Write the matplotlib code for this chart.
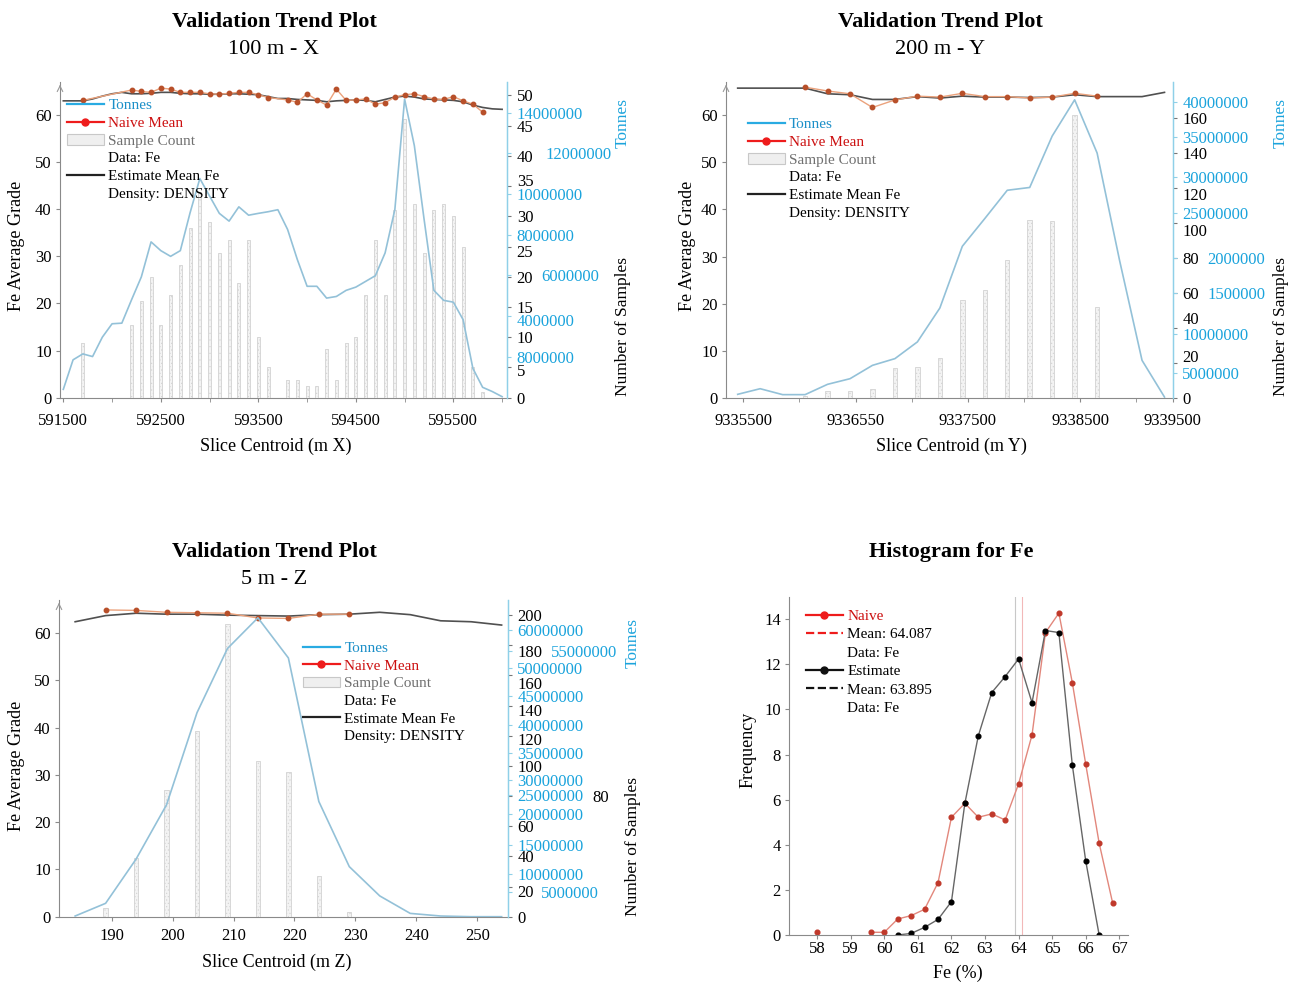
import numpy as np
import matplotlib
matplotlib.use("Agg")
import matplotlib.pyplot as plt
from matplotlib.lines import Line2D
from matplotlib.patches import Patch
from matplotlib.transforms import ScaledTranslation

plt.rcParams['font.family'] = ['Liberation Serif', 'DejaVu Serif']
plt.rcParams['hatch.linewidth'] = 0.4

W, H = 1295, 982
nan = np.nan

# ---------------- 100 m - X ----------------
x_line = list(range(591500, 596001, 100))
x_tonnes = [0.41, 1.86, 2.15, 2.02, 2.97, 3.63, 3.66, 4.81, 5.93, 7.65, 7.22, 6.94, 7.22,
            9.08, 10.76, 9.90, 9.05, 8.67, 9.37, 8.96, 9.05, 9.13, 9.23, 8.26, 6.78, 5.47,
            5.47, 4.89, 4.97, 5.27, 5.43, 5.71, 5.99, 7.11, 9.24, 14.66, 12.37, 8.75, 5.27,
            4.78, 4.69, 3.83, 1.44, 0.51, 0.30, 0.05]
x_est = [63.0, 63.0, 63.0, 63.4, 64.0, 64.5, 64.8, 64.5, 64.5, 64.6, 64.8, 64.8, 64.6,
         64.5, 64.5, 64.4, 64.4, 64.5, 64.5, 64.4, 64.3, 63.9, 63.5, 63.5, 63.3, 63.2,
         63.1, 62.8, 63.0, 63.1, 63.2, 63.1, 62.8, 63.3, 63.8, 64.0, 63.8, 63.4, 63.3,
         63.2, 63.1, 62.8, 62.1, 61.6, 61.3, 61.2]
x_bar = [591700] + list(range(592200, 593601, 100)) + list(range(593800, 595801, 100))
x_samples = [9, 12, 16, 20, 12, 17, 22, 28, 34, 29, 24, 26, 19, 26, 10, 5,
             3, 3, 2, 2, 8, 3, 9, 10, 17, 26, 17, 31, 46, 32, 24, 31, 32, 30, 25, 5, 1]
x_naive = [63.1, 65.3, 65.0, 64.8, 65.7, 65.5, 64.8, 64.8, 64.8, 64.5, 64.4, 64.6, 64.8,
           64.8, 64.3, 63.7, 63.2, 62.7, 64.5, 63.2, 62.1, 65.5, 63.1, 63.2, 63.4, 62.3,
           62.6, 63.8, 64.3, 64.5, 63.9, 63.4, 63.3, 63.9, 63.0, 62.3, 60.6]
x_tonne_ticks = [2, 4, 6, 8, 10, 12, 14]
x_tonne_labels = ['8000000', '4000000', '6000000', '8000000', '10000000',
                  '12000000', '14000000']
x_sample_labels = [str(v) for v in range(0, 51, 5)]

# ---------------- 200 m - Y ----------------
y_line = list(range(9335450, 9339251, 200))
y_tonnes = [2.22, 2.94, 2.18, 2.18, 3.50, 4.22, 5.93, 6.79, 8.93, 13.27, 21.17, 24.72,
            28.34, 28.70, 35.28, 39.92, 33.11, 19.36, 6.57, 1.87]
y_est = [65.7, 65.7, 65.7, 65.7, 64.5, 64.3, 63.3, 63.3, 63.9, 63.6, 64.0, 63.8, 63.8,
         63.7, 63.8, 64.3, 63.9, 63.9, 63.9, 64.8]
y_bar = list(range(9336050, 9338651, 200))
y_samples = [1, 4, 4, 5, 17, 18, 23, 56, 62, 79, 102, 101, 162, 52]
y_naive = [65.9, 65.1, 64.5, 61.6, 63.2, 64.0, 63.8, 64.6, 63.9, 63.9, 63.6, 63.8, 64.6, 64.0]
y_tonne_ticks = [4.92, 9.95, 15.16, 19.64, 25.40, 30.09, 35.13, 39.69]
y_tonne_labels = ['5000000', '10000000', '1500000', '2000000', '25000000',
                  '30000000', '35000000', '40000000']
y_sample_labels = [str(v) for v in range(0, 161, 20)]

# ---------------- 5 m - Z ----------------
z_line = list(range(184, 255, 5))
z_tonnes = [1.84, 4.45, 13.54, 24.70, 43.63, 56.83, 63.14, 54.89, 25.38, 11.99, 5.97,
            2.38, 1.84, 1.70, 1.70]
z_est = [62.4, 63.7, 64.2, 64.0, 64.0, 63.8, 63.7, 63.6, 63.9, 64.0, 64.4, 63.9, 62.6,
         62.4, 61.7]
z_bar = list(range(189, 230, 5))
z_samples = [6, 39, 84, 123, 194, 103, 96, 27, 3]
z_naive = [64.9, 64.8, 64.4, 64.3, 64.2, 63.2, 63.1, 64.0, 64.0]
z_tonne_ticks = [6.85, 10.43, 16.45, 22.83, 26.73, 29.82, 35.43, 41.13, 47.09, 52.79,
                 56.34, 60.66]
z_tonne_labels = ['5000000', '10000000', '15000000', '20000000', '25000000',
                  '30000000', '35000000', '40000000', '45000000', '50000000',
                  '55000000', '60000000']
z_sample_labels = [str(v) for v in range(0, 201, 20)]

# ---------------- Histogram ----------------
fe_bins = [58.0, 58.4, 58.8, 59.2, 59.6, 60.0, 60.4, 60.8, 61.2, 61.6, 62.0, 62.4,
           62.8, 63.2, 63.6, 64.0, 64.4, 64.8, 65.2, 65.6, 66.0, 66.4, 66.8]
naive_freq = [0.12, nan, nan, nan, 0.12, 0.12, 0.71, 0.86, 1.14, 2.32, 5.22, 5.84,
              5.22, 5.37, 5.10, 6.70, 8.87, 13.41, 14.27, 11.19, 7.57, 4.07, 1.43]
est_freq = [nan, nan, nan, nan, nan, nan, 0.0, 0.07, 0.34, 0.69, 1.48, 5.84,
            8.83, 10.75, 11.46, 12.24, 10.30, 13.50, 13.41, 7.54, 3.28, 0.0, nan]
naive_mean = 64.087
est_mean = 63.895

BLUE = '#1aa3dc'
SPINE_BLUE = '#8fd0e8'
GREY = '#8a8a8a'

fig = plt.figure(figsize=(W / 100, H / 100), dpi=100)


def rect(l, r, b, t):
    return [l / W, 1 - b / H, (r - l) / W, (b - t) / H]


def ftext(x, y, s, **kw):
    fig.text(x / W, 1 - y / H, s, ha='center', va='center', **kw)


def shift_labels(axis, moves):
    # nudge some right-hand labels (pad in pt, dy in px downward) like the original
    ticks = axis.get_major_ticks()
    for i, (pad, dy) in moves.items():
        t = ticks[i]
        if pad is not None:
            t.set_pad(pad)
        if dy:
            t.label2.set_transform(t.label2.get_transform() +
                                   ScaledTranslation(0, -dy / 100, fig.dpi_scale_trans))


def trend_panel(box, xlim, pos_line, tonnes, pos_bar, samples, naive, est, bar_w,
                s_top, t_lim, s_ticks, s_labels, t_ticks, t_labels, leg_xy, xpad):
    ax = fig.add_axes(rect(*box))
    ax.set_xlim(*xlim)
    ax.set_ylim(0, 67)
    ax.plot(pos_line, est, color='#505050', lw=1.2, zorder=2)
    ax.plot(pos_bar, naive, color='#eba27c', lw=1, marker='o', ms=3.2,
            mfc='#b8502a', mec='#b8502a', zorder=3)
    ax.set_yticks(range(0, 61, 10))
    for s in ['top', 'right']:
        ax.spines[s].set_visible(False)
    for s in ['left', 'bottom']:
        ax.spines[s].set_color(GREY)
        ax.spines[s].set_linewidth(0.8)
    ax.tick_params(labelsize=12, length=3, color=GREY, pad=3)
    ax.tick_params(axis='x', pad=xpad)
    ax.tick_params(axis='x', which='minor', length=3, color=GREY)
    ax.annotate('', xy=(0, 1.0), xytext=(0, 0.975), xycoords='axes fraction',
                arrowprops=dict(arrowstyle='->', color='#999999', lw=0.8))

    ax_s = ax.twinx()
    ax_s.set_ylim(0, s_top)
    ax_s.bar(pos_bar, samples, width=bar_w, color='#f3f3f3', edgecolor='#d2d2d2',
             lw=0.6, hatch='.....')
    ax_s.set_yticks(s_ticks)
    ax_s.set_yticklabels(s_labels)
    ax_s.tick_params(labelsize=12, length=3, color='#777777', pad=4)

    ax_t = ax.twinx()
    ax_t.set_ylim(*t_lim)
    ax_t.plot(pos_line, tonnes, color='#93c1d8', lw=1.2)
    ax_t.set_yticks(t_ticks)
    ax_t.set_yticklabels(t_labels)
    ax_t.tick_params(labelsize=12, length=3, color=SPINE_BLUE, labelcolor=BLUE, pad=4)

    for a in (ax_s, ax_t):
        for s in ['top', 'left', 'bottom']:
            a.spines[s].set_visible(False)
        a.spines['right'].set_color(SPINE_BLUE)
        a.spines['right'].set_linewidth(0.9)

    handles = [Line2D([], [], color='#29abe2', lw=1.6),
               Line2D([], [], color='#ee1c1c', lw=1.6, marker='o', ms=5),
               Patch(facecolor='#efefef', edgecolor='#c8c8c8', lw=0.8),
               Line2D([], [], color='none'),
               Line2D([], [], color='#222222', lw=1.6),
               Line2D([], [], color='none')]
    labels = ['Tonnes', 'Naive Mean', 'Sample Count', 'Data: Fe',
              'Estimate Mean Fe', 'Density: DENSITY']
    leg = ax_t.legend(handles, labels, loc='upper left', bbox_to_anchor=leg_xy,
                      frameon=False, fontsize=11, handlelength=2.4, handletextpad=0.3,
                      labelspacing=0.26, borderpad=0, borderaxespad=0)
    for t, c in zip(leg.get_texts(), ['#1b8fc8', '#cc1010', '#707070', 'black', 'black', 'black']):
        t.set_color(c)
    return ax, ax_s, ax_t


# panel 1
ax1, ax1s, ax1t = trend_panel((60, 507, 397.7, 82), (591466, 596050), x_line, x_tonnes,
                              x_bar, x_samples, x_naive, x_est, 30, 52.2, (0, 15.5),
                              list(range(0, 51, 5)), x_sample_labels,
                              x_tonne_ticks, x_tonne_labels, (0.016, 0.947), 8)
ax1.set_xticks([591500, 592500, 593500, 594500, 595500])
ax1.set_xticklabels(['591500', '592500', '593500', '594500', '595500'])
ax1.set_xticks([592000, 593000, 594000, 595000, 596000], minor=True)
shift_labels(ax1t.yaxis, {1: (None, 4), 2: (22, 0), 5: (25, 0)})
shift_labels(ax1s.yaxis, {1: (None, 3), 5: (None, 4), 7: (None, -6)})

# panel 2
ax2, ax2s, ax2t = trend_panel((726, 1172.7, 398, 82), (9335346, 9339323), y_line, y_tonnes,
                              y_bar, y_samples, y_naive, y_est, 40, 180.6, (1.75, 42.2),
                              list(range(0, 161, 20)), y_sample_labels,
                              y_tonne_ticks, y_tonne_labels, (0.049, 0.887), 8)
ax2.set_xticks([9335500, 9336500, 9337500, 9338500, 9339323])
ax2.set_xticklabels(['9335500', '9336550', '9337500', '9338500', '9339500'])
ax2.set_xticks([9336000, 9337000, 9338000, 9339000], minor=True)
shift_labels(ax2t.yaxis, {2: (22, 0), 3: (22, 0)})
shift_labels(ax2s.yaxis, {1: (None, -7), 2: (None, -10), 5: (None, 7), 6: (None, 6)})

# panel 3
ax3, ax3s, ax3t = trend_panel((59, 507.7, 916.7, 600), (181.35, 255.0), z_line, z_tonnes,
                              z_bar, z_samples, z_naive, z_est, 0.7, 210, (1.7, 66.8),
                              list(range(0, 201, 20)), z_sample_labels,
                              z_tonne_ticks, z_tonne_labels, (0.544, 0.87), 5)
ax3.set_xticks(range(190, 251, 10))
shift_labels(ax3t.yaxis, {0: (21, 0), 10: (28, 0)})
shift_labels(ax3s.yaxis, {4: (58, 0), 1: (None, 4), 6: (None, 3), 7: (None, 4),
                          8: (None, 8), 9: (None, 6)})

# histogram
ax4 = fig.add_axes(rect(789.3, 1127.7, 935, 596.7))
ax4.axvline(est_mean, color='#c8c8c8', lw=0.8)
ax4.axvline(naive_mean, color='#f2b8b8', lw=0.8)
ax4.plot(fe_bins, naive_freq, color='#e2877c', lw=1, marker='o', ms=3.4,
         mfc='#c0392b', mec='#c0392b')
ax4.plot(fe_bins, est_freq, color='#666666', lw=1, marker='o', ms=3.4,
         mfc='black', mec='black')
ax4.set_xlim(57.17, 67.25)
ax4.set_ylim(0, 15)
ax4.set_xticks(range(58, 68))
ax4.set_yticks(range(0, 15, 2))
for s in ['top', 'right']:
    ax4.spines[s].set_visible(False)
for s in ['left', 'bottom']:
    ax4.spines[s].set_color(GREY)
    ax4.spines[s].set_linewidth(0.8)
ax4.tick_params(labelsize=12, length=3, color=GREY, pad=3)
ax4.tick_params(axis='x', pad=1.5)
h_handles = [Line2D([], [], color='#ee1c1c', lw=1.6, marker='o', ms=5),
             Line2D([], [], color='#ee1c1c', lw=1.6, ls='--'),
             Line2D([], [], color='none'),
             Line2D([], [], color='#111111', lw=1.6, marker='o', ms=5),
             Line2D([], [], color='#111111', lw=1.6, ls='--'),
             Line2D([], [], color='none')]
h_labels = ['Naive', 'Mean: 64.087', 'Data: Fe', 'Estimate', 'Mean: 63.895', 'Data: Fe']
leg4 = ax4.legend(h_handles, h_labels, loc='upper left', bbox_to_anchor=(0.049, 0.963),
                  frameon=False, fontsize=11, handlelength=2.4, handletextpad=0.3,
                  labelspacing=0.31, borderpad=0, borderaxespad=0)
leg4.get_texts()[0].set_color('#cc1010')

# titles and axis labels
for cx, top, sub in [(274, 22, '100 m - X'), (940, 22, '200 m - Y'), (274, 552, '5 m - Z')]:
    ftext(cx, top, 'Validation Trend Plot', fontsize=16, fontweight='bold')
    ftext(cx, top + 27, sub, fontsize=16)
ftext(951, 552, 'Histogram for Fe', fontsize=16, fontweight='bold')

ftext(276, 446, 'Slice Centroid (m X)', fontsize=13)
ftext(951, 446, 'Slice Centroid (m Y)', fontsize=13)
ftext(277, 962, 'Slice Centroid (m Z)', fontsize=13)
ftext(958, 973, 'Fe (%)', fontsize=13)

ftext(17, 246, 'Fe Average Grade', fontsize=13, rotation=90)
ftext(688, 246, 'Fe Average Grade', fontsize=13, rotation=90)
ftext(17, 766, 'Fe Average Grade', fontsize=13, rotation=90)
ftext(748, 750, 'Frequency', fontsize=13, rotation=90)

for x, yt, ys in [(623, 123, 327), (1281, 123, 327), (633, 643, 847)]:
    ftext(x, yt, 'Tonnes', fontsize=12.5, rotation=90, color=BLUE)
    ftext(x, ys, 'Number of Samples', fontsize=12.5, rotation=90)

fig.savefig('out.png', dpi=100)
